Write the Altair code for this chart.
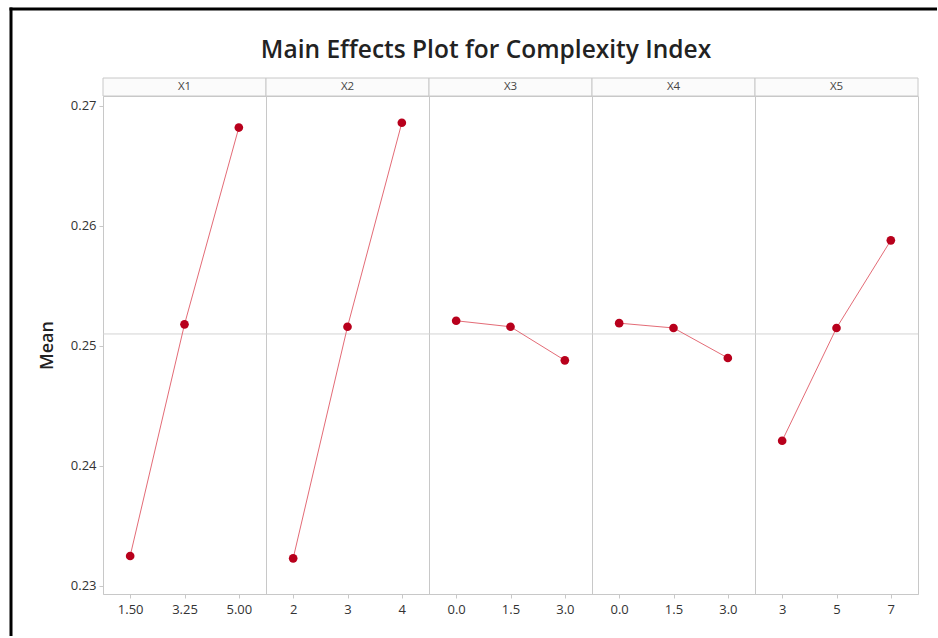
import altair as alt
import pandas as pd

# ---- data ----
factors = ["X1", "X2", "X3", "X4", "X5"]
levels = [
    ["1.50", "3.25", "5.00"],
    ["2", "3", "4"],
    ["0.0", "1.5", "3.0"],
    ["0.0", "1.5", "3.0"],
    ["3", "5", "7"],
]
means = [
    [0.2325, 0.2518, 0.2682],
    [0.2323, 0.2516, 0.2686],
    [0.2521, 0.2516, 0.2488],
    [0.2519, 0.2515, 0.2490],
    [0.2421, 0.2515, 0.2588],
]
grand_mean = [0.2510]
y_ticks = [0.23, 0.24, 0.25, 0.26, 0.27]
title_text = ["Main Effects Plot for Complexity Index"]

# ---- styling ----
W, H = 163, 498
Y_DOMAIN = [0.22933, 0.27083]
GRID = "#c8c8c8"
PT = "#b8001c"
LN = "#e05a66"
FONT = "Open Sans"


def panel(i):
    df = pd.DataFrame({"level": levels[i], "mean": means[i]})
    yscale = alt.Scale(domain=Y_DOMAIN, nice=False, zero=False)
    if i == 0:
        yaxis = alt.Axis(values=y_ticks, format=".2f", title="Mean", grid=False,
                         domain=False, tickColor=GRID, tickSize=4,
                         labelFont=FONT, labelFontSize=13, labelColor="#333333",
                         labelPadding=3, titleFont=FONT, titleFontSize=18,
                         titleFontWeight=600, titleColor="#222222", titlePadding=14)
    else:
        yaxis = None
    x = alt.X("level:O", sort=levels[i],
              scale=alt.Scale(type="point", padding=0.5),
              axis=alt.Axis(title=None, labelAngle=0, domainColor=GRID, tickColor=GRID,
                            tickSize=4, labelFont=FONT, labelFontSize=13,
                            labelColor="#333333", labelPadding=5, grid=False))
    base = alt.Chart(df)
    ref = alt.Chart(pd.DataFrame({"m": grand_mean})).mark_rule(
        color="#d4d4d4", strokeWidth=1).encode(
        y=alt.Y("m:Q", scale=yscale, axis=yaxis))
    line = base.mark_line(color=LN, strokeWidth=0.9).encode(
        x=x, y=alt.Y("mean:Q", scale=yscale, axis=None if i else yaxis))
    pts = base.mark_point(filled=True, color=PT, size=75, opacity=1).encode(
        x=x, y=alt.Y("mean:Q", scale=yscale, axis=None if i else yaxis))
    sdf = pd.DataFrame({"f": [factors[i]]})
    strip = alt.Chart(sdf).mark_rect(fill="#fbfbfb", stroke=GRID, strokeWidth=1).encode(
        x=alt.value(0), x2=alt.value(W), y=alt.value(-18), y2=alt.value(0))
    stext = alt.Chart(sdf).mark_text(font=FONT, fontSize=11.5, color="#444444",
                                     baseline="middle").encode(
        x=alt.value(W / 2), y=alt.value(-9), text="f:N")
    layers = [ref, line, pts, strip, stext]
    if i == 0:
        tdf = pd.DataFrame({"t": title_text})
        title = alt.Chart(tdf).mark_text(font=FONT, fontSize=24.5, fontWeight=600,
                                         color="#222222", baseline="alphabetic").encode(
            x=alt.value(383), y=alt.value(-38), text="t:N")
        vframe = alt.Chart(tdf).mark_rect(color="black", strokeWidth=0).encode(
            x=alt.value(-93.5), x2=alt.value(-90.5), y=alt.value(-88.5), y2=alt.value(540))
        hframe = alt.Chart(tdf).mark_rect(color="black", strokeWidth=0).encode(
            x=alt.value(-93.5), x2=alt.value(834), y=alt.value(-88.5), y2=alt.value(-85.5))
        layers += [title, vframe, hframe]
    return alt.layer(*layers).properties(width=W, height=H)


chart = alt.hconcat(*[panel(i) for i in range(5)], spacing=0, bounds="flush").resolve_scale(
    x="independent", y="shared"
).properties(
    padding={"left": 9, "top": 7, "right": 0, "bottom": 0},
    background="white",
).configure_view(stroke=GRID, strokeWidth=1)

chart.save("out.html", embed_options={"renderer": "svg", "actions": False})
